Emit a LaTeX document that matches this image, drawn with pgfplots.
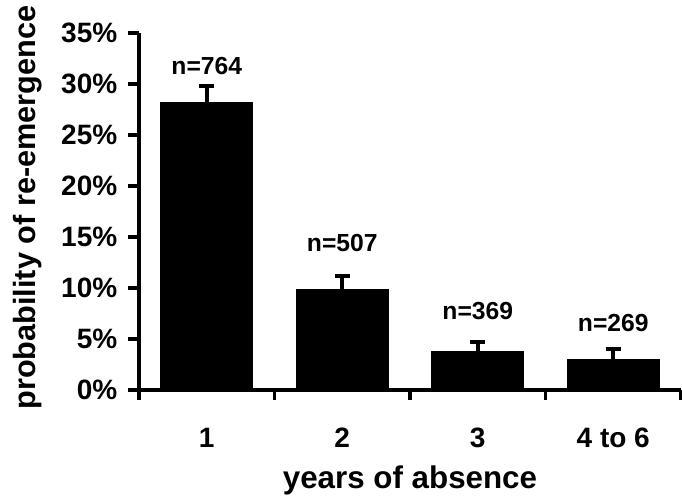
\documentclass[border=0pt]{standalone}
\usepackage{fontspec}
\setmainfont{Liberation Sans}
\usepackage{pgfplots}
\pgfplotsset{compat=1.18}
\begin{document}
\begin{tikzpicture}
\useasboundingbox (-104.25pt,-80.25pt) rectangle (407.25pt,292.5pt);
\begin{axis}[
  scale only axis, width=406.5pt, height=267.75pt,
  at={(0,0)}, anchor=south west,
  xmin=0.5, xmax=4.5, ymin=0, ymax=35,
  axis x line=bottom, axis y line=left,
  axis line style={-, line width=2.6pt, black},
  tick align=outside,
  major tick length=8.25pt,
  /pgf/number format/assume math mode=true,
  ytick={0,5,...,35},
  yticklabel={\pgfmathprintnumber{\tick}\%},
  y tick style={line width=2.6pt, black},
  yticklabel style={xshift=-4.5pt},
  xtick={1,2,3,4},
  xticklabels={1,2,3,4 to 6},
  x tick style={draw=none},
  xticklabel style={yshift=-17pt},
  extra x ticks={0.5,1.5,2.5,3.5,4.5},
  extra x tick labels={},
  extra x tick style={x tick style={draw=black, line width=2.6pt}, major tick length=7.5pt},
  tick label style={font=\fontsize{21}{25}\selectfont\bfseries},
  xlabel={years of absence},
  ylabel={probability of re-emergence},
  xlabel style={font=\fontsize{23.5}{28}\selectfont\bfseries, at={(axis description cs:0.5,-0.2521)}, anchor=center},
  ylabel style={font=\fontsize{23}{28}\selectfont\bfseries, at={(axis description cs:-0.2048,0.511)}, anchor=center},
  clip=false,
]
\addplot[ybar, bar width=69pt, fill=black, draw=black,
  error bars/.cd, y dir=plus, y explicit,
  error bar style={line width=2.8pt, black},
  error mark options={rotate=90, mark size=5.6pt, line width=2.8pt, black}]
  coordinates {(1,28.2) +- (0,1.6) (2,9.9) +- (0,1.25) (3,3.8) +- (0,0.9) (4,3.0) +- (0,1.0)};
\addplot[draw=none, nodes near coords, point meta=explicit symbolic,
  nodes near coords style={anchor=center, font=\fontsize{18.5}{22}\selectfont\bfseries}]
  coordinates {(1,31.8)[n=764] (2,14.4)[n=507] (3,7.75)[n=369] (4,6.6)[n=269]};
\end{axis}
\end{tikzpicture}
\end{document}
